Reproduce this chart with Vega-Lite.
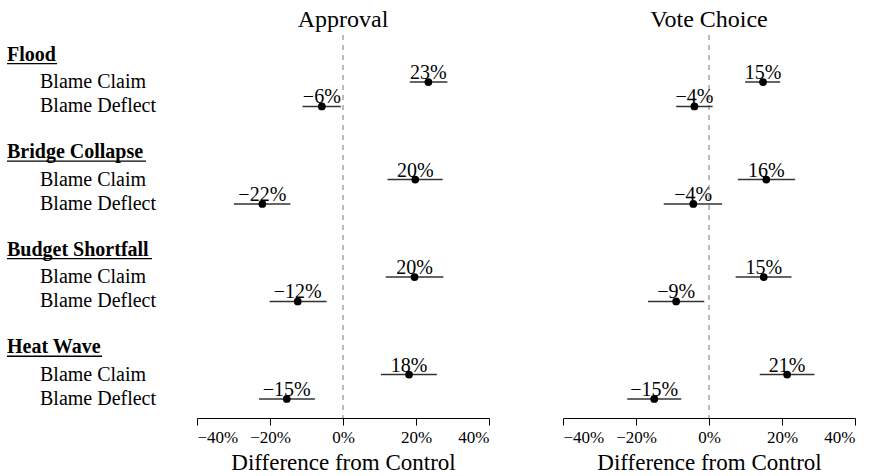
{
  "$schema": "https://vega.github.io/schema/vega-lite/v6.json",
  "padding": {"left": 0, "top": 8, "right": 0, "bottom": 0},
  "bounds": "flush",
  "spacing": 74,
  "background": "white",
  "config": {
    "view": {"stroke": null},
    "font": "Liberation Serif",
    "mark": {"font": "Liberation Serif"},
    "text": {"font": "Liberation Serif"},
    "title": {"font": "Liberation Serif", "fontSize": 24, "fontWeight": "normal", "color": "black", "anchor": "middle", "offset": 2},
    "axis": {"grid": false, "labelFont": "Liberation Serif", "titleFont": "Liberation Serif"}
  },
  "datasets": {
    "est": [
      {"outcome": "Approval", "key": "Flood|Blame Claim", "est": 0.234, "lo": 0.183, "hi": 0.286},
      {"outcome": "Approval", "key": "Flood|Blame Deflect", "est": -0.058, "lo": -0.111, "hi": -0.006},
      {"outcome": "Approval", "key": "Bridge Collapse|Blame Claim", "est": 0.198, "lo": 0.122, "hi": 0.273},
      {"outcome": "Approval", "key": "Bridge Collapse|Blame Deflect", "est": -0.221, "lo": -0.299, "hi": -0.144},
      {"outcome": "Approval", "key": "Budget Shortfall|Blame Claim", "est": 0.196, "lo": 0.117, "hi": 0.275},
      {"outcome": "Approval", "key": "Budget Shortfall|Blame Deflect", "est": -0.124, "lo": -0.201, "hi": -0.045},
      {"outcome": "Approval", "key": "Heat Wave|Blame Claim", "est": 0.181, "lo": 0.104, "hi": 0.257},
      {"outcome": "Approval", "key": "Heat Wave|Blame Deflect", "est": -0.154, "lo": -0.230, "hi": -0.077},
      {"outcome": "Vote Choice", "key": "Flood|Blame Claim", "est": 0.148, "lo": 0.099, "hi": 0.195},
      {"outcome": "Vote Choice", "key": "Flood|Blame Deflect", "est": -0.040, "lo": -0.090, "hi": 0.010},
      {"outcome": "Vote Choice", "key": "Bridge Collapse|Blame Claim", "est": 0.157, "lo": 0.079, "hi": 0.236},
      {"outcome": "Vote Choice", "key": "Bridge Collapse|Blame Deflect", "est": -0.043, "lo": -0.124, "hi": 0.036},
      {"outcome": "Vote Choice", "key": "Budget Shortfall|Blame Claim", "est": 0.150, "lo": 0.073, "hi": 0.226},
      {"outcome": "Vote Choice", "key": "Budget Shortfall|Blame Deflect", "est": -0.090, "lo": -0.167, "hi": -0.013},
      {"outcome": "Vote Choice", "key": "Heat Wave|Blame Claim", "est": 0.214, "lo": 0.139, "hi": 0.289},
      {"outcome": "Vote Choice", "key": "Heat Wave|Blame Deflect", "est": -0.150, "lo": -0.224, "hi": -0.076}
    ],
    "labels": [
      {"key": "Flood", "label": "Flood", "kind": "heading"},
      {"key": "Flood|Blame Claim", "label": "Blame Claim", "kind": "item"},
      {"key": "Flood|Blame Deflect", "label": "Blame Deflect", "kind": "item"},
      {"key": "Bridge Collapse", "label": "Bridge Collapse", "kind": "heading"},
      {"key": "Bridge Collapse|Blame Claim", "label": "Blame Claim", "kind": "item"},
      {"key": "Bridge Collapse|Blame Deflect", "label": "Blame Deflect", "kind": "item"},
      {"key": "Budget Shortfall", "label": "Budget Shortfall", "kind": "heading"},
      {"key": "Budget Shortfall|Blame Claim", "label": "Blame Claim", "kind": "item"},
      {"key": "Budget Shortfall|Blame Deflect", "label": "Blame Deflect", "kind": "item"},
      {"key": "Heat Wave", "label": "Heat Wave", "kind": "heading"},
      {"key": "Heat Wave|Blame Claim", "label": "Blame Claim", "kind": "item"},
      {"key": "Heat Wave|Blame Deflect", "label": "Blame Deflect", "kind": "item"}
    ]
  },
  "hconcat": [
    {
      "width": 123,
      "height": 383,
      "data": {"name": "labels"},
      "transform": [
        {"calculate": "datum.kind == 'heading' ? 7 : 40", "as": "indent"},
        {"calculate": "datum.label == 'Flood' ? 57 : datum.label == 'Bridge Collapse' ? 146 : datum.label == 'Budget Shortfall' ? 152 : 102", "as": "uend"}
      ],
      "encoding": {
        "x": {"field": "indent", "type": "quantitative", "scale": {"domain": [0, 123], "nice": false, "zero": false}, "axis": null},
        "y": {"field": "key", "type": "nominal", "scale": {"type": "point", "padding": 0.855, "align": 0.544, "domain": ["Flood", "Flood|Blame Claim", "Flood|Blame Deflect", "g1", "Bridge Collapse", "Bridge Collapse|Blame Claim", "Bridge Collapse|Blame Deflect", "g2", "Budget Shortfall", "Budget Shortfall|Blame Claim", "Budget Shortfall|Blame Deflect", "g3", "Heat Wave", "Heat Wave|Blame Claim", "Heat Wave|Blame Deflect"]}, "axis": null}
      },
      "layer": [
        {
          "transform": [{"filter": "datum.kind == 'heading'"}],
          "mark": {"type": "text", "font": "Liberation Serif", "align": "left", "baseline": "middle", "fontSize": 20, "fontWeight": "bold", "color": "black", "dy": -3},
          "encoding": {"text": {"field": "label"}}
        },
        {
          "transform": [{"filter": "datum.kind == 'heading'"}],
          "mark": {"type": "rule", "color": "black", "strokeWidth": 1.3, "yOffset": 6},
          "encoding": {"x2": {"field": "uend"}}
        },
        {
          "transform": [{"filter": "datum.kind == 'item'"}],
          "mark": {"type": "text", "font": "Liberation Serif", "align": "left", "baseline": "middle", "fontSize": 20, "color": "black"},
          "encoding": {"text": {"field": "label"}}
        }
      ]
    },
    {
      "title": "Approval",
      "width": 292,
      "height": 383,
      "data": {"name": "est"},
      "transform": [{"filter": "datum.outcome == 'Approval'"}],
      "layer": [
        {
          "mark": {"type": "rule", "color": "#bbbbbb", "strokeDash": [5, 5], "strokeWidth": 1.5},
          "encoding": {"x": {"datum": 0, "type": "quantitative", "scale": {"domain": [-0.4, 0.4], "nice": false, "zero": false},
              "axis": {"title": "Difference from Control", "values": [-0.4, -0.3, -0.2, -0.1, 0, 0.1, 0.2, 0.3, 0.4], "format": ".0%",
                "labelExpr": "round(datum.value*100) % 20 == 0 ? datum.label : ''",
                "domainColor": "black", "tickColor": "black", "tickSize": 7, "labelColor": "black", "labelFont": "Liberation Serif", "labelFontSize": 17, "labelPadding": 4,
                "titleColor": "black", "titleFont": "Liberation Serif", "titleFontSize": 23, "titleFontWeight": "normal", "titlePadding": 6}}}
        },
        {
          "mark": {"type": "rule", "color": "#333333", "strokeWidth": 1.5},
          "encoding": {
            "x": {"field": "lo", "type": "quantitative"},
            "x2": {"field": "hi"},
            "y": {"field": "key", "type": "nominal", "scale": {"type": "point", "padding": 0.855, "align": 0.544, "domain": ["Flood", "Flood|Blame Claim", "Flood|Blame Deflect", "g1", "Bridge Collapse", "Bridge Collapse|Blame Claim", "Bridge Collapse|Blame Deflect", "g2", "Budget Shortfall", "Budget Shortfall|Blame Claim", "Budget Shortfall|Blame Deflect", "g3", "Heat Wave", "Heat Wave|Blame Claim", "Heat Wave|Blame Deflect"]}, "axis": null}
          }
        },
        {
          "mark": {"type": "circle", "color": "black", "opacity": 1, "size": 60},
          "encoding": {"x": {"field": "est", "type": "quantitative"}, "y": {"field": "key", "type": "nominal"}}
        },
        {
          "mark": {"type": "text", "font": "Liberation Serif", "fontSize": 20, "color": "black", "baseline": "alphabetic", "dy": -3},
          "encoding": {"x": {"field": "est", "type": "quantitative"}, "y": {"field": "key", "type": "nominal"}, "text": {"field": "est", "format": ".0%"}}
        }
      ]
    },
    {
      "title": "Vote Choice",
      "width": 292,
      "height": 383,
      "data": {"name": "est"},
      "transform": [{"filter": "datum.outcome == 'Vote Choice'"}],
      "layer": [
        {
          "mark": {"type": "rule", "color": "#bbbbbb", "strokeDash": [5, 5], "strokeWidth": 1.5},
          "encoding": {"x": {"datum": 0, "type": "quantitative", "scale": {"domain": [-0.4, 0.4], "nice": false, "zero": false},
              "axis": {"title": "Difference from Control", "values": [-0.4, -0.3, -0.2, -0.1, 0, 0.1, 0.2, 0.3, 0.4], "format": ".0%",
                "labelExpr": "round(datum.value*100) % 20 == 0 ? datum.label : ''",
                "domainColor": "black", "tickColor": "black", "tickSize": 7, "labelColor": "black", "labelFont": "Liberation Serif", "labelFontSize": 17, "labelPadding": 4,
                "titleColor": "black", "titleFont": "Liberation Serif", "titleFontSize": 23, "titleFontWeight": "normal", "titlePadding": 6}}}
        },
        {
          "mark": {"type": "rule", "color": "#333333", "strokeWidth": 1.5},
          "encoding": {
            "x": {"field": "lo", "type": "quantitative"},
            "x2": {"field": "hi"},
            "y": {"field": "key", "type": "nominal", "scale": {"type": "point", "padding": 0.855, "align": 0.544, "domain": ["Flood", "Flood|Blame Claim", "Flood|Blame Deflect", "g1", "Bridge Collapse", "Bridge Collapse|Blame Claim", "Bridge Collapse|Blame Deflect", "g2", "Budget Shortfall", "Budget Shortfall|Blame Claim", "Budget Shortfall|Blame Deflect", "g3", "Heat Wave", "Heat Wave|Blame Claim", "Heat Wave|Blame Deflect"]}, "axis": null}
          }
        },
        {
          "mark": {"type": "circle", "color": "black", "opacity": 1, "size": 60},
          "encoding": {"x": {"field": "est", "type": "quantitative"}, "y": {"field": "key", "type": "nominal"}}
        },
        {
          "mark": {"type": "text", "font": "Liberation Serif", "fontSize": 20, "color": "black", "baseline": "alphabetic", "dy": -3},
          "encoding": {"x": {"field": "est", "type": "quantitative"}, "y": {"field": "key", "type": "nominal"}, "text": {"field": "est", "format": ".0%"}}
        }
      ]
    }
  ]
}
